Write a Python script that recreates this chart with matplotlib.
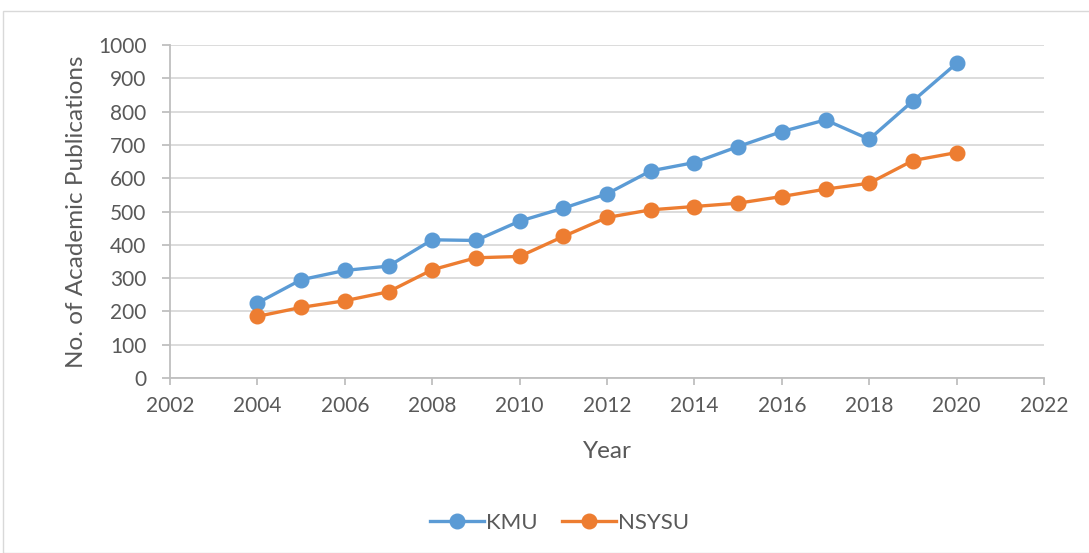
import matplotlib
matplotlib.use("Agg")
import matplotlib.pyplot as plt
from matplotlib.patches import Rectangle

years = [2004, 2005, 2006, 2007, 2008, 2009, 2010, 2011, 2012,
         2013, 2014, 2015, 2016, 2017, 2018, 2019, 2020]
kmu = [225, 295, 323, 336, 415, 413, 471, 510, 553,
       622, 647, 695, 740, 775, 717, 832, 945]
nsysu = [185, 212, 232, 259, 325, 361, 365, 425, 482,
         505, 515, 525, 545, 567, 585, 653, 677]
x_ticks = list(range(2002, 2023, 2))
y_ticks = list(range(0, 1001, 100))

plt.rcParams["font.family"] = ["Lato", "DejaVu Sans"]
text_color = "#595959"
axis_color = "#bfbfbf"
grid_color = "#d9d9d9"

fig = plt.figure(figsize=(10.89, 5.53), dpi=100)
fig.patches.append(Rectangle((3 / 1089, 0), 1.0, 1 - 11 / 553, transform=fig.transFigure,
                             fill=False, edgecolor=grid_color, linewidth=1.0))

ax = fig.add_axes([170 / 1089, 1 - 378 / 553, (1044 - 170) / 1089, (378 - 45) / 553])

ax.plot(years, kmu, color="#5B9BD5", linewidth=2.4, marker="o", markersize=10.5, label="KMU", zorder=3)
ax.plot(years, nsysu, color="#ED7D31", linewidth=2.4, marker="o", markersize=10.5, label="NSYSU", zorder=3)

ax.set_xlim(2002, 2022)
ax.set_ylim(0, 1000)
ax.set_xticks(x_ticks)
ax.set_yticks(y_ticks)
ax.yaxis.grid(True, color=grid_color, linewidth=1.3)
ax.set_axisbelow(True)

for side in ["top", "right"]:
    ax.spines[side].set_visible(False)
for side in ["left", "bottom"]:
    ax.spines[side].set_color(axis_color)
    ax.spines[side].set_linewidth(1.3)

ax.tick_params(axis="y", length=6, width=1.3, color=axis_color, pad=11, labelsize=15, labelcolor=text_color)
ax.tick_params(axis="x", length=5, width=1.3, color=axis_color, pad=8, labelsize=15, labelcolor=text_color)

ax.set_xlabel("Year", fontsize=17.5, color=text_color, labelpad=18)
ax.set_ylabel("No. of Academic Publications", fontsize=17.5, color=text_color, labelpad=8)

fig.legend(loc="center", bbox_to_anchor=(560 / 1089, 1 - 523 / 553), ncol=2, frameon=False,
           fontsize=16, labelcolor=text_color, handlelength=2.4, columnspacing=1.1, handletextpad=0.12)

fig.savefig("out.png", dpi=100)
